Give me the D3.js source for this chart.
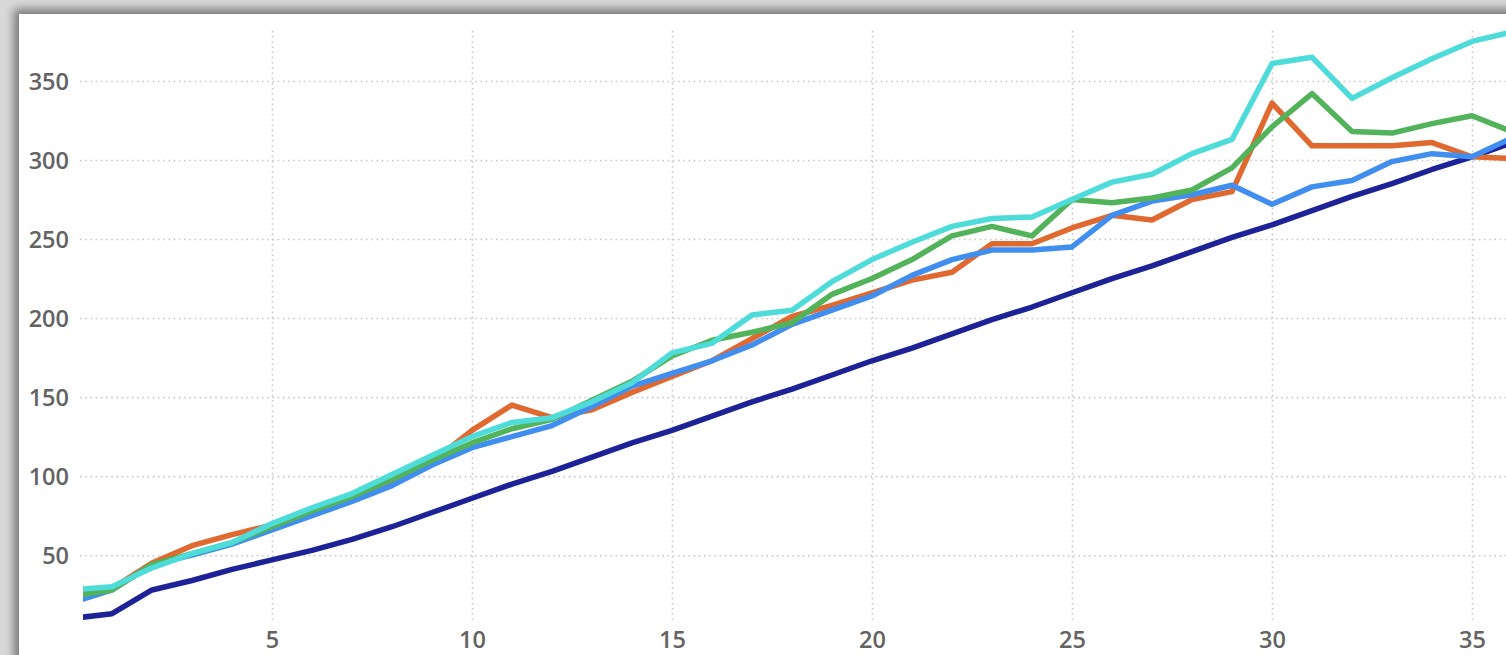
<!DOCTYPE html>
<html>
<head>
<meta charset="utf-8">
<script src="https://cdn.jsdelivr.net/npm/d3@7"></script>
<style>
  html, body { margin: 0; padding: 0; width: 1506px; height: 655px; overflow: hidden; background: #d9d9d9; }
  #panel { position: absolute; left: 19px; top: 14px; width: 1530px; height: 680px; background: #fff;
           box-shadow: -2px -2px 9px 3px rgba(0,0,0,0.45); }
  svg { position: absolute; left: 0; top: 0; }
  .tick-label { font-family: "Open Sans", "Noto Sans", sans-serif; font-weight: 600; font-size: 23.5px; fill: #636363; }
</style>
</head>
<body>
<div id="panel"></div>
<svg id="chart" width="1506" height="655"></svg>
<script>
const xValues = d3.range(0, 37);
const orange = [24, 29, 45, 56, 63, 69, 77, 86, 97, 109, 129, 145, 137, 142, 153, 163, 173, 187, 201, 208, 216, 224, 229, 247, 247, 257, 265, 262, 275, 280, 336, 309, 309, 309, 311, 302, 301];
const green  = [24, 28, 44, 51, 58, 68, 78, 87, 98, 110, 121, 130, 136, 148, 160, 176, 186, 191, 197, 215, 225, 237, 252, 258, 252, 275, 273, 276, 281, 295, 321, 342, 318, 317, 323, 328, 318];
const cyan   = [28, 30, 42, 51, 58, 70, 80, 89, 101, 113, 125, 134, 137, 147, 159, 178, 184, 202, 205, 223, 237, 248, 258, 263, 264, 275, 286, 291, 304, 313, 361, 365, 339, 352, 364, 375, 381];
const blue   = [20, 28, 44, 50, 57, 66, 75, 84, 94, 107, 118, 125, 132, 144, 157, 165, 173, 183, 196, 205, 214, 227, 237, 243, 243, 245, 265, 274, 278, 284, 272, 283, 287, 299, 304, 302, 314];
const navy   = [10, 13, 28, 34, 41, 47, 53, 60, 68, 77, 86, 95, 103, 112, 121, 129, 138, 147, 155, 164, 173, 181, 190, 199, 207, 216, 225, 233, 242, 251, 259, 268, 277, 285, 294, 302, 311];
const xTicks = [5, 10, 15, 20, 25, 30, 35];
const yTicks = [50, 100, 150, 200, 250, 300, 350];

const seriesList = [
  { name: "navy",   values: navy,   color: "#1d2396" },
  { name: "orange", values: orange, color: "#e0692f" },
  { name: "blue",   values: blue,   color: "#3f8ef0" },
  { name: "green",  values: green,  color: "#52b35a" },
  { name: "cyan",   values: cyan,   color: "#4ddcd9" }
];

const svg = d3.select("#chart");
const plot = { left: 83, right: 1506, top: 28, bottom: 620 };
const x = d3.scaleLinear().domain([0, 36]).range([72, 1512]);
const y = d3.scaleLinear().domain([9, 383.5]).range([620, 28]);

svg.append("defs").append("clipPath").attr("id", "clip")
  .append("rect").attr("x", plot.left).attr("y", 0).attr("width", plot.right - plot.left).attr("height", 655);

// horizontal grid
const yAxis = d3.axisLeft(y).tickValues(yTicks).tickSize(-(plot.right - 80)).tickFormat(d => d);
const gy = svg.append("g").attr("transform", "translate(80,0)").call(yAxis);
gy.select(".domain").remove();
gy.selectAll(".tick line").attr("stroke", "#c8c8c8").attr("stroke-width", 1.6).attr("stroke-dasharray", "1.6,3.6");
gy.selectAll(".tick text").attr("class", "tick-label").attr("x", -11).attr("dy", "0.35em").attr("font-size", null).attr("font-family", null).attr("fill", null);

// vertical grid
const xAxis = d3.axisBottom(x).tickValues(xTicks).tickSize(-(plot.bottom - plot.top)).tickFormat(d => d);
const gx = svg.append("g").attr("transform", `translate(0,${plot.bottom})`).call(xAxis);
gx.select(".domain").remove();
gx.selectAll(".tick line").attr("stroke", "#c8c8c8").attr("stroke-width", 1.6).attr("stroke-dasharray", "1.6,3.6");
gx.selectAll(".tick text").attr("class", "tick-label").attr("y", 28).attr("dy", 0).attr("font-size", null).attr("font-family", null).attr("fill", null);

const line = d3.line().x((d, i) => x(xValues[i])).y(d => y(d));
svg.append("g").attr("clip-path", "url(#clip)")
  .selectAll("path").data(seriesList).join("path")
  .attr("d", s => line(s.values))
  .attr("fill", "none")
  .attr("stroke", s => s.color)
  .attr("stroke-width", 5.5)
  .attr("stroke-linejoin", "round");
</script>
</body>
</html>
